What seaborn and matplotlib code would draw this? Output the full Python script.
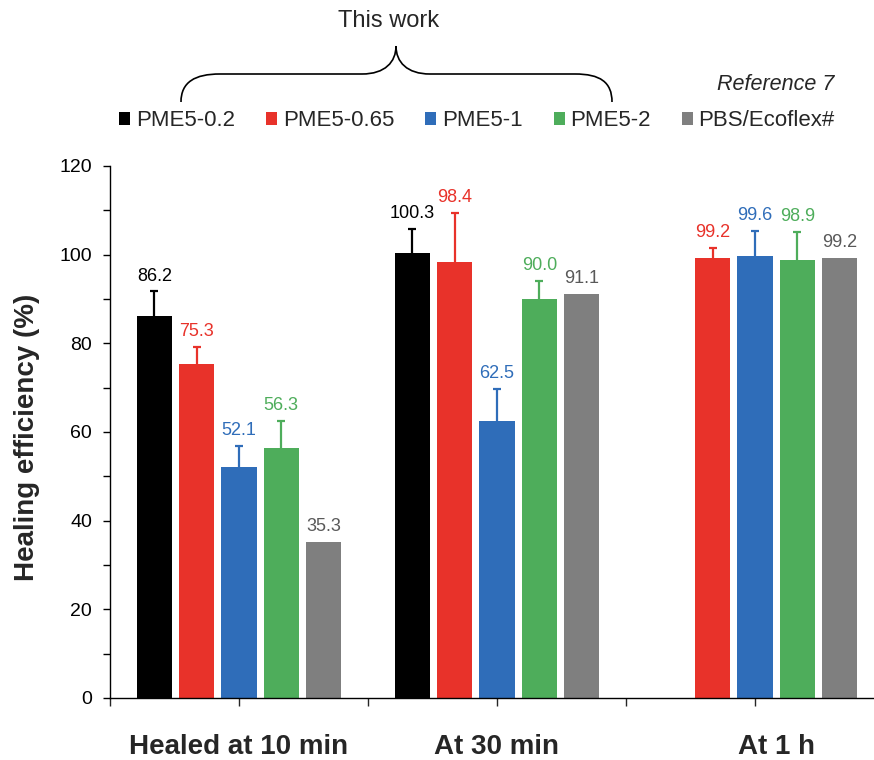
import numpy as np
import pandas as pd
import matplotlib
matplotlib.use('Agg')
import matplotlib.pyplot as plt
from matplotlib.path import Path
from matplotlib.patches import PathPatch
import seaborn as sns

# data
categories = ['Healed at 10 min', 'At 30 min', 'At 1 h']
series = ['PME5-0.2', 'PME5-0.65', 'PME5-1', 'PME5-2', 'PBS/Ecoflex#']

pme5_02 = [86.2, 100.3, np.nan]
pme5_065 = [75.3, 98.4, 99.2]
pme5_1 = [52.1, 62.5, 99.6]
pme5_2 = [56.3, 90.0, 98.9]
pbs_ecoflex = [35.3, 91.1, 99.2]

pme5_02_err = [5.5, 5.6, np.nan]
pme5_065_err = [3.9, 11.1, 2.4]
pme5_1_err = [4.8, 7.3, 5.8]
pme5_2_err = [6.2, 4.1, 6.3]
pbs_ecoflex_err = [0, 0, 0]

bar_colors = ['#000000', '#E8322A', '#2F6DB9', '#4EAD5B', '#7F7F7F']
label_colors = ['#000000', '#E8322A', '#2F6DB9', '#4EAD5B', '#595959']

values = [pme5_02, pme5_065, pme5_1, pme5_2, pbs_ecoflex]
errors = [pme5_02_err, pme5_065_err, pme5_1_err, pme5_2_err, pbs_ecoflex_err]

rows = []
for s, vals, errs in zip(series, values, errors):
    for c, v, e in zip(categories, vals, errs):
        if not np.isnan(v):
            rows.append({'time': c, 'sample': s, 'eff': v, 'err': e})
df = pd.DataFrame(rows)

sns.set_style('ticks')
plt.rcParams['font.family'] = ['Liberation Sans', 'DejaVu Sans']

fig = plt.figure(figsize=(8.74, 7.6), dpi=100)
ax = fig.add_axes([110 / 874, 62 / 760, 764 / 874, 532 / 760])

sns.barplot(data=df, x='time', y='eff', hue='sample', order=categories,
            hue_order=series, palette=bar_colors, saturation=1,
            width=0.82, gap=0.17, linewidth=0, legend=False, ax=ax)

bar_sets = list(ax.containers)
handles = [bars.patches[0] for bars in bar_sets]

# error bars (upward only) and value labels
bar_centers = {c: [] for c in range(len(categories))}
for i, bars in enumerate(bar_sets):
    sub = df[df['sample'] == series[i]].set_index('time')
    for patch in bars.patches:
        xc = patch.get_x() + patch.get_width() / 2
        ci = int(round(xc))
        bar_centers[ci].append((patch.get_x(), patch.get_x() + patch.get_width()))
        v = sub.loc[categories[ci], 'eff']
        e = sub.loc[categories[ci], 'err']
        if e > 0:
            eb = ax.errorbar(xc, v, yerr=[[0], [e]], fmt='none', ecolor=bar_colors[i],
                             elinewidth=1.6, capsize=3, capthick=1.6, zorder=0.5)
            # hide the cap sitting on the bar top, keep only the upper one
            for cap in eb[1]:
                if np.min(cap.get_ydata()) < v + e / 2:
                    cap.set_visible(False)
        ax.annotate(f'{v:.1f}', xy=(xc, v + e), xytext=(0, 5),
                    textcoords='offset points', ha='center', va='bottom',
                    fontsize=13, color=label_colors[i])

ax.set_ylim(0, 120)
ax.set_xlim(-0.5, -0.5 + 764 / 258)
ax.set_yticks(np.arange(0, 121, 20))
ax.set_yticks(np.arange(10, 120, 20), minor=True)
ax.set_xticks([-0.5, 0, 0.5, 1, 1.5, 2])
ax.set_xticklabels([])
ax.tick_params(axis='y', which='both', direction='out', length=5, width=1,
               labelsize=14, pad=8, colors='black')
ax.tick_params(axis='x', direction='out', length=6, width=1)
for sp in ['top', 'right']:
    ax.spines[sp].set_visible(False)
for sp in ['left', 'bottom']:
    ax.spines[sp].set_linewidth(1)
    ax.spines[sp].set_color('black')

# category names centred under the bars that exist
for ci, name in enumerate(categories):
    lo = min(b[0] for b in bar_centers[ci])
    hi = max(b[1] for b in bar_centers[ci])
    ax.annotate(name, xy=((lo + hi) / 2, 0), xycoords=('data', 'axes fraction'),
                xytext=(0, -26), textcoords='offset points', ha='center', va='top',
                fontsize=20, fontweight='bold')

ax.set_xlabel('')
ax.set_ylabel('Healing efficiency (%)', fontsize=20, fontweight='bold')
ax.yaxis.set_label_coords(-0.092, 0.49)

fig.legend(handles, series, loc='center', bbox_to_anchor=(477 / 874, 1 - 121 / 760),
           ncol=5, frameon=False, fontsize=16, handlelength=0.5, handleheight=0.5,
           handletextpad=0.25, columnspacing=1.4, borderpad=0)

fig.text(389 / 874, 1 - 21 / 760, 'This work', ha='center', va='center', fontsize=17)
fig.text(834 / 874, 1 - 85 / 760, 'Reference 7', ha='right', va='center',
         fontsize=15.5, style='italic')

# curly brace over the "This work" samples (figure pixel coords, y from top)
brace = [(181, 102), (181, 82), (195, 74), (220, 74), (362, 74),
         (385, 74), (396, 62), (396, 46),
         (396, 62), (407, 74), (430, 74), (575, 74),
         (600, 74), (612, 82), (612, 102)]
codes = [Path.MOVETO, Path.CURVE4, Path.CURVE4, Path.CURVE4, Path.LINETO,
         Path.CURVE4, Path.CURVE4, Path.CURVE4,
         Path.CURVE4, Path.CURVE4, Path.CURVE4, Path.LINETO,
         Path.CURVE4, Path.CURVE4, Path.CURVE4]
verts = [(x / 874, 1 - y / 760) for x, y in brace]
fig.add_artist(PathPatch(Path(verts, codes), transform=fig.transFigure,
                         fill=False, lw=1.2, edgecolor='black'))

fig.savefig('out.png', dpi=100)
